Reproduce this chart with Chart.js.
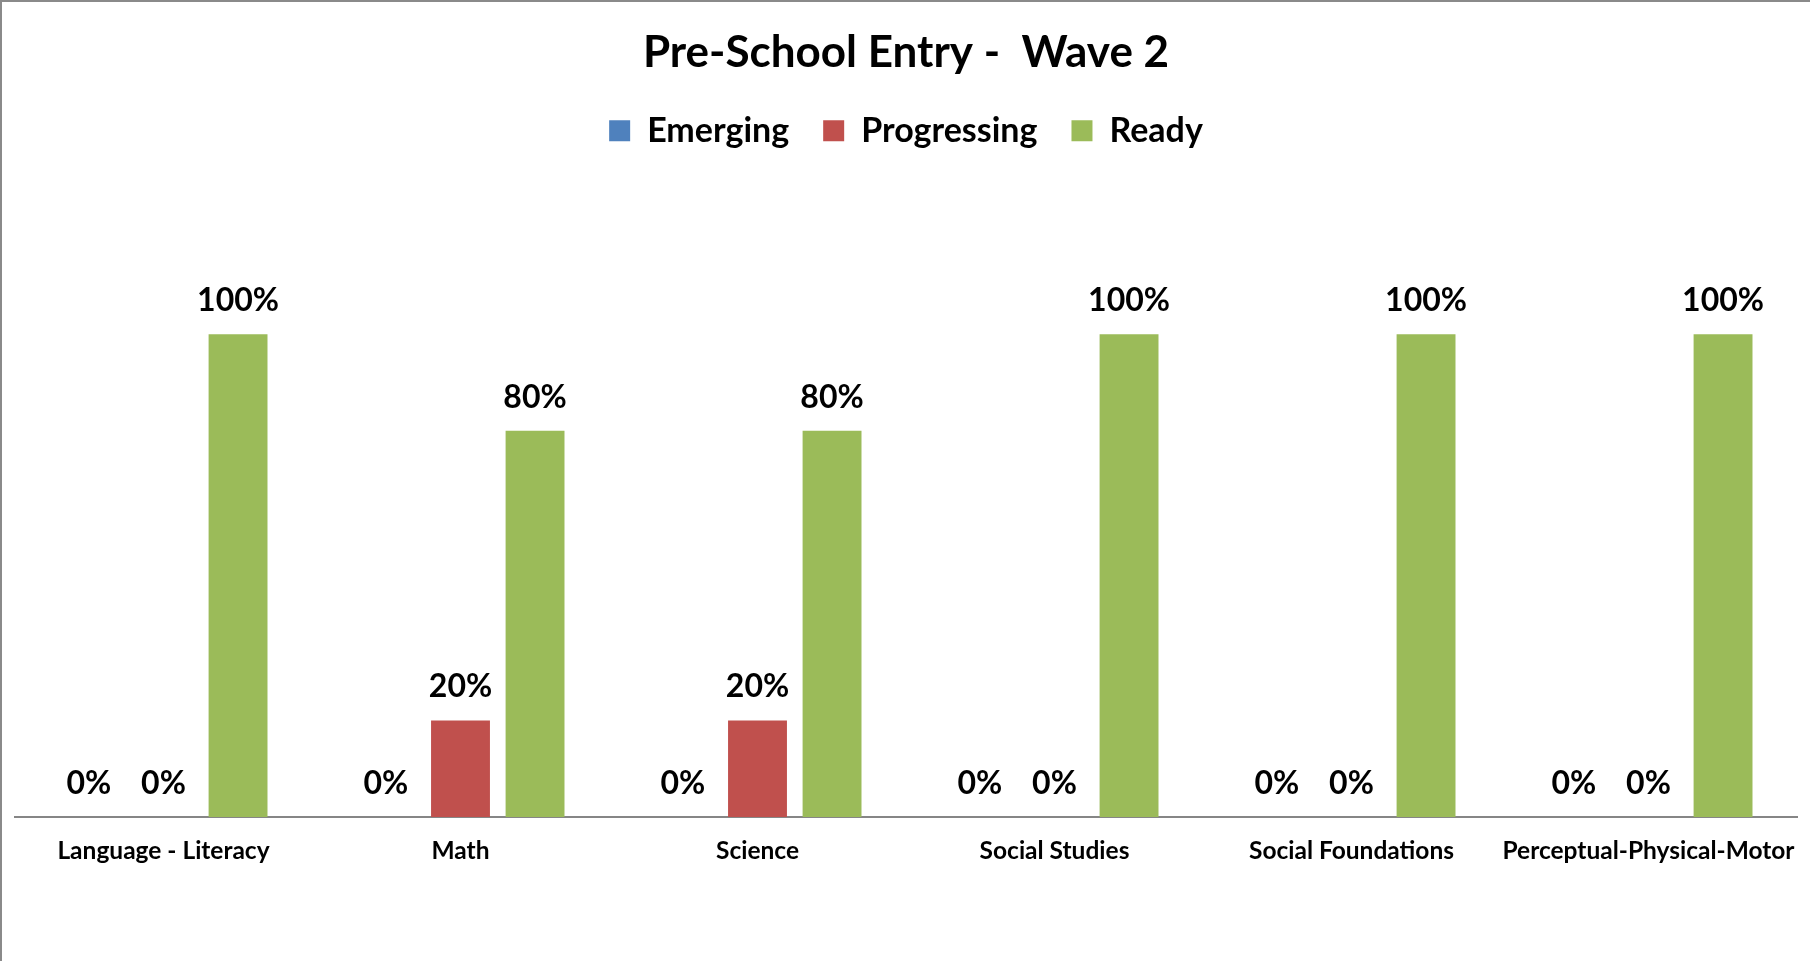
<!DOCTYPE html>
<html>
<head>
<meta charset="utf-8">
<script src="https://cdn.jsdelivr.net/npm/chart.js@4/dist/chart.umd.min.js"></script>
<style>
    body { margin: 0; background: #fff; }
    #wrap { position: relative; width: 1810px; height: 961px; box-sizing: border-box; border-top: 2px solid #8a8a8a; border-left: 2px solid #8a8a8a; }
    canvas { display: block; }
</style>
</head>
<body>
<div id="wrap"><canvas id="chart-wave2" width="1808" height="959"></canvas></div>
<script>
// Chart data
var categories = ["Language - Literacy", "Math", "Science", "Social Studies", "Social Foundations", "Perceptual-Physical-Motor"];
var emerging = [0, 0, 0, 0, 0, 0];
var progressing = [0, 20, 20, 0, 0, 0];
var ready = [100, 80, 80, 100, 100, 100];
var seriesNames = ["Emerging", "Progressing", "Ready"];
var seriesColors = ["#4F81BD", "#C0504D", "#9BBB59"];

var fontFamily = "Lato, 'Open Sans', sans-serif";

// draws the % value over each bar
var valueLabels = {
    id: "valueLabels",
    afterDatasetsDraw: function(chart) {
        var ctx = chart.ctx;
        ctx.save();
        ctx.font = "bold 32px " + fontFamily;
        ctx.fillStyle = "#000";
        ctx.textAlign = "center";
        ctx.textBaseline = "alphabetic";
        chart.data.datasets.forEach(function(ds, i) {
            chart.getDatasetMeta(i).data.forEach(function(bar, j) {
                ctx.fillText(ds.data[j] + "%", bar.x, bar.y - 23);
            });
        });
        ctx.restore();
    }
};

// leave more room under the legend (Excel puts the plot area lower)
var legendGap = {
    id: "legendGap",
    beforeInit: function(chart) {
        var fitLegend = chart.legend.fit;
        chart.legend.fit = function() {
            fitLegend.call(this);
            this.height += 80;
        };
    }
};

var ctx = document.getElementById("chart-wave2").getContext("2d");
new Chart(ctx, {
    type: "bar",
    data: {
        labels: categories,
        datasets: [
            { label: seriesNames[0], data: emerging, backgroundColor: seriesColors[0] },
            { label: seriesNames[1], data: progressing, backgroundColor: seriesColors[1] },
            { label: seriesNames[2], data: ready, backgroundColor: seriesColors[2] }
        ]
    },
    options: {
        responsive: false,
        animation: false,
        layout: { padding: { left: 13, right: 13, top: 0, bottom: 0 } },
        datasets: {
            bar: { categoryPercentage: 0.753, barPercentage: 0.79 }
        },
        plugins: {
            title: {
                display: true,
                text: "Pre-School Entry -  Wave 2",
                color: "#000",
                font: { size: 44, weight: "bold", family: fontFamily },
                padding: { top: 24, bottom: 1 }
            },
            legend: {
                display: true,
                labels: {
                    color: "#000",
                    boxWidth: 21,
                    boxHeight: 21,
                    padding: 34,
                    font: { size: 34, weight: "bold", family: fontFamily }
                }
            },
            tooltip: { enabled: false }
        },
        scales: {
            x: {
                grid: { display: false, drawTicks: false },
                border: { display: true, color: "#868686", width: 2 },
                ticks: {
                    color: "#000",
                    padding: 19,
                    font: { size: 24.5, weight: "bold", family: fontFamily },
                    maxRotation: 0,
                    autoSkip: false
                },
                afterFit: function(scale) {
                    scale.height = 144;
                    // long last label may hang past the plot edge, as in Excel
                    scale.paddingLeft = 0;
                    scale.paddingRight = 0;
                }
            },
            y: {
                display: false,
                min: 0,
                max: 120
            }
        }
    },
    plugins: [valueLabels, legendGap]
});
</script>
</body>
</html>
